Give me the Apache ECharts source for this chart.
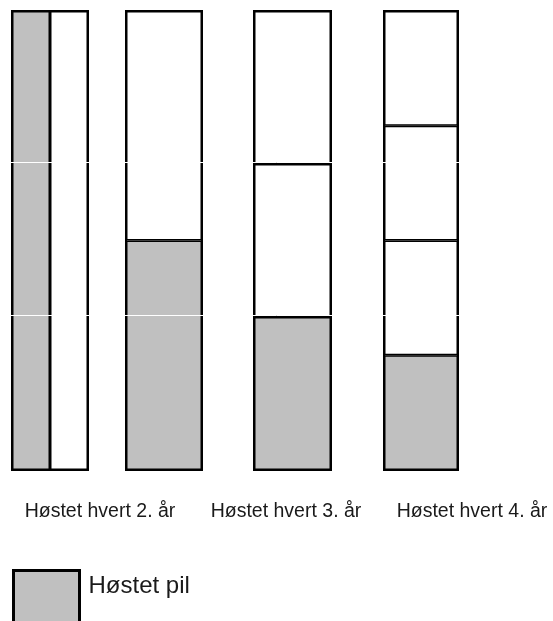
<!DOCTYPE html>
<html><head><meta charset="utf-8">
<script src="https://cdn.jsdelivr.net/npm/echarts@6/dist/echarts.min.js"></script>
<style>html,body{margin:0;padding:0;background:#fff}#c{width:553px;height:621px}</style>
</head><body><div id="c"></div>
<script>
// ---- data ----
const labels = ['Høstet hvert 2. år', 'Høstet hvert 3. år', 'Høstet hvert 4. år'];
const legendName = 'Høstet pil';
const otherName = 'Ikke høstet';
const total = 12;
// column 1: two bars side by side (harvested, not harvested)
const colAnnual = [12, 12];
// stacked columns, segments from bottom (first = harvested)
const colEvery2 = [6, 6];
const colEvery3 = [4, 4, 4];
const colEvery4 = [3, 3, 3, 3];

// ---- styling ----
const GRAY = '#c0c0c0';
const BORDER = 1.5;
const TOP = 11, H = 459;
const font = 'Liberation Sans, Arial, sans-serif';
const frame = {color: 'rgba(0,0,0,0)', borderColor: '#000', borderWidth: 2};

const grids = [
  {left: 12, width: 76, top: TOP, height: H},
  {left: 126, width: 76, top: TOP, height: H},
  {left: 254, width: 77, top: TOP, height: H},
  {left: 384, width: 74, top: TOP, height: H},
  {left: 0, right: 0, top: 9, height: H},      // overlay split lines
  {left: 7, width: 558, top: TOP, height: H}   // labels
].map(g => Object.assign({outerBoundsMode: 'none'}, g));

const xAxes = [
  {gridIndex: 0, type: 'category', data: ['a', 'b'], show: false},
  {gridIndex: 1, type: 'category', data: ['a'], show: false},
  {gridIndex: 2, type: 'category', data: ['a'], show: false},
  {gridIndex: 3, type: 'category', data: ['a'], show: false},
  {gridIndex: 4, type: 'category', data: ['a'], show: false},
  {gridIndex: 5, type: 'category', data: labels,
   axisLine: {show: false}, axisTick: {show: false},
   axisLabel: {interval: 0, margin: 32, fontSize: 19.5, color: '#1a1a1a', fontFamily: font}}
];
const yAxes = [0, 1, 2, 3].map(i => ({gridIndex: i, type: 'value', min: 0, max: total, show: false}));
yAxes.push({gridIndex: 4, type: 'value', min: 0, max: total, interval: 4, z: 5,
  axisLine: {show: false}, axisTick: {show: false}, axisLabel: {show: false},
  splitLine: {show: true, showMinLine: false, showMaxLine: false, lineStyle: {color: '#ffffff', width: 1}}});
yAxes.push({gridIndex: 5, type: 'value', min: 0, max: total, show: false});

const series = [];
series.push({type: 'bar', name: legendName, xAxisIndex: 0, yAxisIndex: 0,
  barWidth: '100%', barGap: '-100%', data: [colAnnual[0], '-'],
  showBackground: true, backgroundStyle: frame,
  itemStyle: {color: GRAY, borderColor: '#000', borderWidth: BORDER}});
series.push({type: 'bar', name: otherName, xAxisIndex: 0, yAxisIndex: 0,
  barWidth: '100%', barGap: '-100%', data: ['-', colAnnual[1]],
  showBackground: true, backgroundStyle: frame,
  itemStyle: {color: '#fff', borderColor: '#000', borderWidth: BORDER}});
[colEvery2, colEvery3, colEvery4].forEach((vals, k) => {
  const g = k + 1;
  vals.forEach((v, i) => {
    series.push({type: 'bar', name: i === 0 ? legendName : otherName,
      xAxisIndex: g, yAxisIndex: g, stack: 's' + g, barWidth: '100%', data: [v],
      showBackground: i === 0, backgroundStyle: frame,
      itemStyle: {color: i === 0 ? GRAY : '#fff', borderColor: '#000', borderWidth: BORDER}});
  });
});

const chart = echarts.init(document.getElementById('c'), null, {renderer: 'canvas'});
chart.setOption({
  animation: false,
  backgroundColor: '#fff',
  grid: grids,
  xAxis: xAxes,
  yAxis: yAxes,
  legend: {
    data: [legendName], left: 12, top: 569, padding: 0,
    itemWidth: 66, itemHeight: 60, icon: 'rect', selectedMode: false,
    itemStyle: {color: GRAY, borderColor: '#000', borderWidth: 3},
    formatter: '{t|{name}}',
    textStyle: {color: '#1a1a1a', fontFamily: font, fontSize: 24,
      rich: {t: {fontSize: 24, fontFamily: font, color: '#1a1a1a', padding: [0, 0, 28, 4]}}}
  },
  series: series
});
</script></body></html>
